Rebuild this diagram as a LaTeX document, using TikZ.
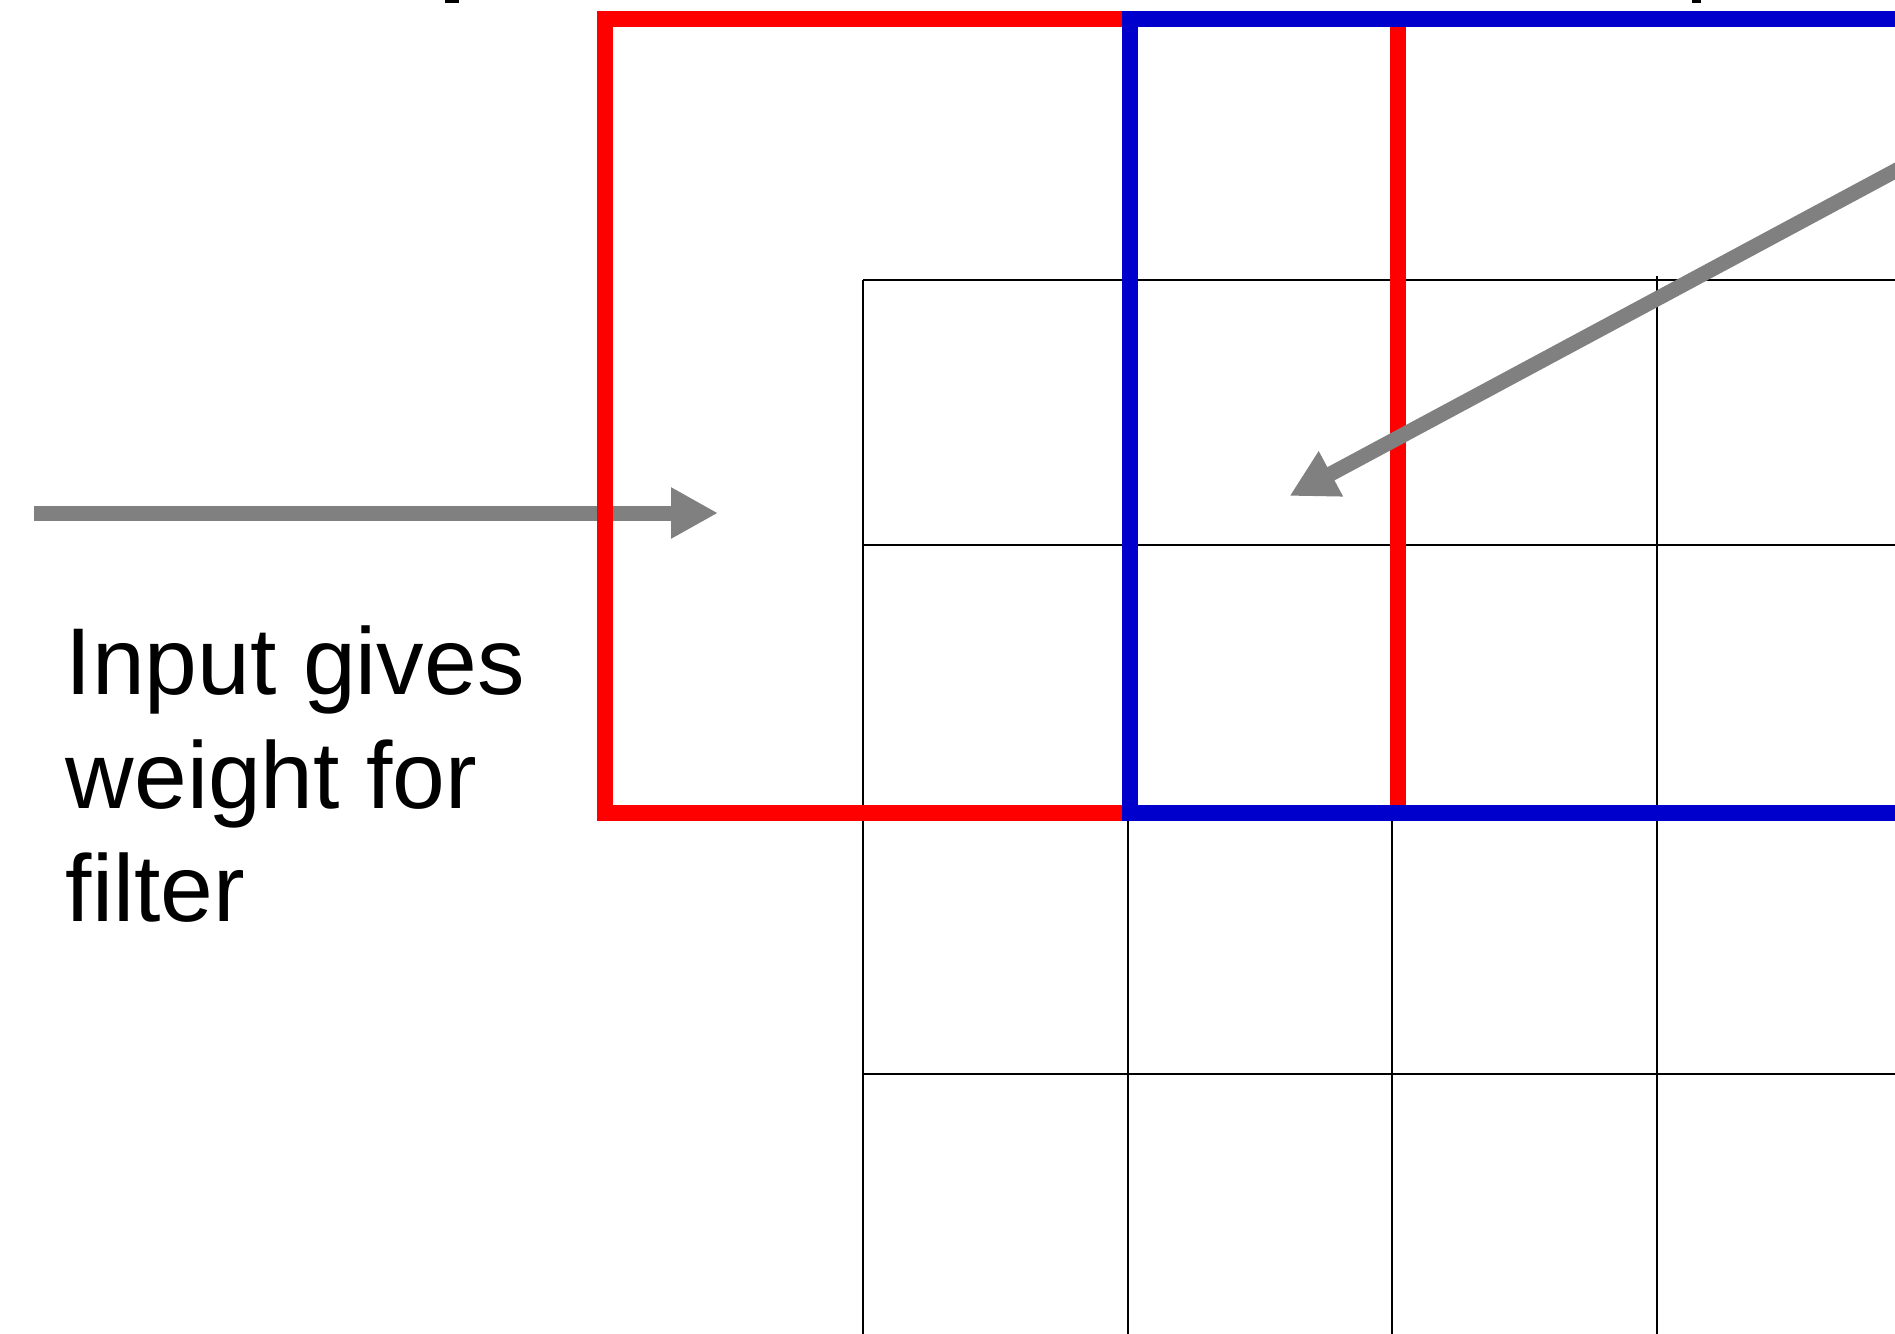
\documentclass[tikz,border=0pt]{standalone}
\usepackage{fontspec}
\setmainfont{Liberation Sans}
\usepackage{tikz}
\usetikzlibrary{arrows.meta}

\definecolor{filterred}{RGB}{255,0,0}
\definecolor{filterblue}{RGB}{0,0,204}
\definecolor{arrowgray}{RGB}{128,128,128}

\begin{document}
\begin{tikzpicture}[x=0.02cm, y=-0.02cm, every node/.style={font=\fontsize{54}{64.7}\selectfont}]
            \tikzstyle{gridline}=[draw=black, line width=0.9pt]
            \tikzstyle{filterbox}=[line width=0.32cm, line join=miter]
            \tikzstyle{bigarrow}=[draw=arrowgray, line width=0.3cm, -{Triangle[length=0.94cm, width=0.96cm]}]
            \tikzstyle{caption}=[anchor=base west, align=left, inner sep=0pt]

            \clip (0,0) rectangle (1895,1333);

            % grid of the input
            \draw[gridline] (863,280) -- (1950,280);
            \draw[gridline] (863,545) -- (1950,545);
            \draw[gridline] (863,810) -- (1950,810);
            \draw[gridline] (863,1074) -- (1950,1074);
            \draw[gridline] (863,280) -- (863,1340);
            \draw[gridline] (1128,280) -- (1128,1340);
            \draw[gridline] (1392,280) -- (1392,1340);
            \draw[gridline] (1657,276) -- (1657,1340);

            % cut-off text above
            \fill (445,0) rectangle (459,3);
            \fill (1692,0) rectangle (1701,3);

            \coordinate (inA) at (34,513);
            \coordinate (inB) at (718,513);
            \coordinate (wA) at (1950,141.5);
            \coordinate (wB) at (1289.5,496);

            \draw[bigarrow] (inA) -- (inB);

            % filter positions
            \draw[filterbox, draw=filterred] (604.5,19) rectangle (1398,812.5);
            \draw[filterbox, draw=filterblue] (1130,19) rectangle (1923.5,812.5);

            \draw[bigarrow] (wA) -- (wB);

            \node[caption] (weight) at (65.5,921.7) {Input gives\\weight for\\filter};
        \end{tikzpicture}
\end{document}
